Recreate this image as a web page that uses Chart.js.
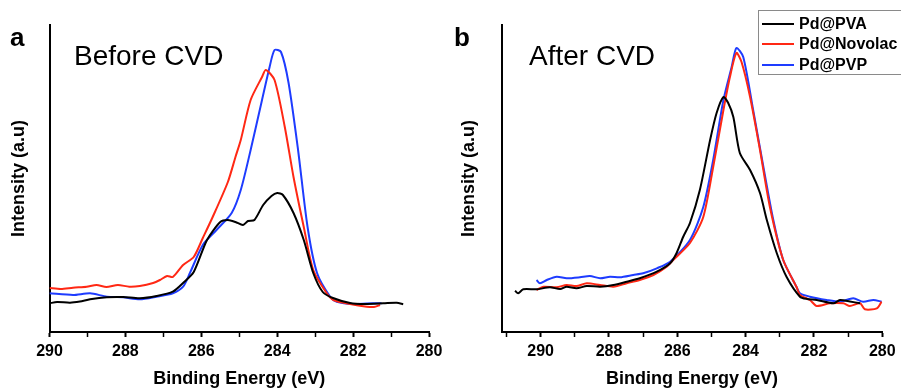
<!DOCTYPE html>
<html>
<head>
<meta charset="utf-8">
<script src="https://cdn.jsdelivr.net/npm/chart.js@4"></script>
<style>
  html, body { margin: 0; padding: 0; background: #fff; }
  #wrap { position: relative; width: 901px; height: 388px; overflow: hidden; font-family: 'Liberation Sans', Arial, sans-serif; }
  .panel { position: absolute; top: 0; height: 388px; }
  .lbl { position: absolute; white-space: nowrap; color: #000; }
  .letter { font-weight: bold; font-size: 26px; }
  .cond { font-size: 28px; }
  #legend { position: absolute; left: 758px; top: 10px; width: 160px; height: 63px; border: 1px solid #8a8a8a; background: #fff; }
  .row { position: absolute; left: 0; height: 20px; }
  .row .ln { position: absolute; left: 3px; top: 9px; width: 32px; height: 2px; }
  .row .tx { position: absolute; left: 40px; top: 0; font-weight: bold; font-size: 16px; line-height: 20px; }
</style>
</head>
<body>
<div id="wrap">
  <div class="panel" style="left:0;width:450px"><canvas id="ca" width="450" height="388"></canvas></div>
  <div class="panel" style="left:450px;width:451px"><canvas id="cb" width="451" height="388"></canvas></div>
  <div class="lbl letter" style="left:10px;top:22px">a</div>
  <div class="lbl cond" style="left:74px;top:40px">Before CVD</div>
  <div class="lbl letter" style="left:454px;top:22px">b</div>
  <div class="lbl cond" style="left:529px;top:40px">After CVD</div>
  <div id="legend">
    <div class="row" style="top:3px"><div class="ln" style="background:#000"></div><div class="tx">Pd@PVA</div></div>
    <div class="row" style="top:23px"><div class="ln" style="background:rgb(255,40,20)"></div><div class="tx">Pd@Novolac</div></div>
    <div class="row" style="top:44px"><div class="ln" style="background:rgb(30,60,255)"></div><div class="tx">Pd@PVP</div></div>
  </div>
</div>
<script>
// ---------- Data (Binding energy in eV, intensity in arbitrary units) ----------
const seriesNames = ['Pd@PVA', 'Pd@Novolac', 'Pd@PVP'];

// Panel a: Before CVD
const aPVA_eV  = [290, 289.8, 289.46, 289.2, 288.93, 288.49, 288.06, 287.62, 287.18, 286.75, 286.48, 286.2, 285.85, 285.5, 285.3, 285.1, 284.9, 284.77, 284.6, 284.37, 284.15, 284.0, 283.85, 283.57, 283.3, 283.05, 282.8, 282.53, 282.08, 281.7, 281.2, 280.85, 280.68];
const aPVA_int = [28.7, 30, 29.3, 30.5, 32.7, 34.7, 35, 33.7, 36, 40.3, 49, 60, 92, 110, 112, 110, 107, 111, 112, 127, 136, 139, 137, 119, 92, 59, 40, 34, 29, 28, 28.7, 29.3, 27.7];

const aNov_eV  = [290, 289.7, 289.38, 289.02, 288.76, 288.5, 288.2, 287.9, 287.62, 287.27, 287.09, 286.9, 286.75, 286.48, 286.2, 285.96, 285.7, 285.3, 285.1, 284.96, 284.7, 284.4, 284.3, 284.07, 283.8, 283.57, 283.3, 283.05, 282.7, 282.52, 282.08, 281.64, 281.45, 281.29];
const aNov_int = [44, 43, 44.3, 45.3, 47, 45, 47, 45.3, 46, 49, 52, 56, 55, 67, 75, 94, 115, 150, 175, 192, 232, 255, 262, 252, 205, 155, 105, 62, 39, 32, 28, 25.3, 25, 27];

const aPVP_eV  = [290, 289.38, 288.93, 288.49, 288.06, 287.62, 287.18, 286.75, 286.48, 286.3, 285.96, 285.6, 285.2, 284.96, 284.7, 284.4, 284.2, 284.07, 283.9, 283.7, 283.45, 283.2, 282.95, 282.6, 282.43, 282.0, 281.47, 281.25];
const aPVP_int = [38.7, 37, 38.7, 35.3, 34.7, 32.7, 35.3, 38.7, 45.3, 59, 87, 102, 119, 142, 182, 232, 265, 282, 280, 249, 182, 105, 59, 35, 30.3, 28, 28.7, 28.7];

// Panel b: After CVD
const bPVA_eV  = [290.75, 290.66, 290.51, 290.12, 289.73, 289.43, 289.24, 288.95, 288.65, 288.26, 287.87, 287.48, 287.1, 286.6, 286.21, 286.02, 285.83, 285.63, 285.34, 285.04, 284.85, 284.65, 284.51, 284.36, 284.17, 283.87, 283.58, 283.38, 283.09, 282.8, 282.41, 282.2, 281.92, 281.43, 281.24, 280.95, 280.65];
const bPVA_int = [41.3, 38.7, 42.7, 42.7, 44.7, 43, 45.3, 43.7, 46, 45.3, 47, 50.3, 53.7, 60.3, 68.7, 79, 95, 109, 142, 192, 219, 235, 229, 215, 179, 162, 139, 112, 79, 55, 35.3, 33, 32, 28.7, 32, 30.5, 28.7];

const bNov_eV  = [290.12, 289.92, 289.53, 289.24, 288.95, 288.65, 288.26, 287.87, 287.48, 287.1, 286.7, 286.31, 286.12, 285.63, 285.24, 284.95, 284.65, 284.46, 284.27, 284.12, 283.87, 283.58, 283.29, 282.9, 282.51, 282.41, 282.12, 281.92, 281.53, 281.14, 280.95, 280.65, 280.51, 280.16, 280.02];
const bNov_int = [42, 45.3, 44.7, 47, 46, 48.7, 47, 45.3, 48.7, 52, 57, 65.3, 72, 89, 115, 165, 222, 255, 279, 270, 235, 182, 125, 72, 45, 37, 32, 26, 28.7, 28.7, 26, 28.7, 22.7, 23.7, 30.3];

const bPVP_eV  = [290.12, 290.02, 289.82, 289.53, 289.24, 288.85, 288.56, 288.26, 287.97, 287.68, 287.29, 287.0, 286.6, 286.21, 285.63, 285.24, 284.95, 284.65, 284.41, 284.27, 284.07, 283.78, 283.48, 283.19, 282.9, 282.51, 282.41, 282.12, 281.63, 281.24, 280.85, 280.56, 280.26, 280.02];
const bPVP_int = [52, 48.7, 52, 55.3, 53.7, 54.7, 56, 53.7, 55.3, 54.7, 57, 58.7, 63.7, 70.3, 92, 125, 172, 232, 265, 284, 275, 222, 165, 112, 72, 45, 38.7, 35.3, 32, 30.3, 33.7, 30.3, 32, 30.3];

// Axis ticks
const aTicks = [280, 281, 282, 283, 284, 285, 286, 287, 288, 289, 290];
const bTicks = [280, 281, 282, 283, 284, 285, 286, 287, 288, 289, 290, 291];
const majorLabels = [280, 282, 284, 286, 288, 290];

// ---------- Build ----------
const colors = ['#000000', 'rgb(255,40,20)', 'rgb(30,60,255)'];
const FONT = "'Liberation Sans', Arial, sans-serif";

function pts(xs, ys) { return xs.map((x, i) => ({ x: x, y: ys[i] })); }

function ds(name, xs, ys, color) {
  return { label: name, data: pts(xs, ys), borderColor: color, backgroundColor: color,
           borderWidth: 2, pointRadius: 0, tension: 0.25, fill: false };
}

function makeChart(id, datasets, xMin, xMax, ticks, padRight, yWidth) {
  return new Chart(document.getElementById(id), {
    type: 'line',
    data: { datasets: datasets },
    options: {
      responsive: false, animation: false, devicePixelRatio: 1,
      layout: { padding: { top: 25, right: padRight, left: 0, bottom: 0 } },
      plugins: { legend: { display: false }, tooltip: { enabled: false } },
      scales: {
        x: {
          type: 'linear', reverse: true, min: xMin, max: xMax,
          afterBuildTicks: s => { s.ticks = ticks.map(v => ({ value: v })); },
          afterFit: s => { s.height = 56; },
          ticks: {
            autoSkip: false, maxRotation: 0, padding: 5, color: '#000',
            font: { family: FONT, size: 16, weight: 'bold' },
            callback: v => (majorLabels.includes(v) ? String(v) : '')
          },
          grid: { drawOnChartArea: false, drawTicks: true, tickLength: 5, tickColor: '#000',
                  tickWidth: c => (c.tick && majorLabels.includes(c.tick.value) ? 2 : 1.5) },
          border: { display: true, color: '#000', width: 2 },
          title: { display: true, text: 'Binding Energy (eV)', color: '#000',
                   font: { family: FONT, size: 18, weight: 'bold' }, padding: { top: 0, bottom: -2 } }
        },
        y: {
          min: 0, max: 307,
          afterFit: s => { s.width = yWidth; },
          ticks: { display: false },
          grid: { drawOnChartArea: false, drawTicks: false },
          border: { display: true, color: '#000', width: 2 },
          title: { display: true, text: 'Intensity (a.u)', color: '#000',
                   font: { family: FONT, size: 18, weight: 'bold' }, padding: { top: 8, bottom: 0 } }
        }
      }
    }
  });
}

makeChart('ca', [
  ds(seriesNames[0], aPVA_eV, aPVA_int, colors[0]),
  ds(seriesNames[1], aNov_eV, aNov_int, colors[1]),
  ds(seriesNames[2], aPVP_eV, aPVP_int, colors[2])
], 280, 290, aTicks, 21, 49.5);

makeChart('cb', [
  ds(seriesNames[0], bPVA_eV, bPVA_int, colors[0]),
  ds(seriesNames[1], bNov_eV, bNov_int, colors[1]),
  ds(seriesNames[2], bPVP_eV, bPVP_int, colors[2])
], 280, 291.14, bTicks, 18.7, 51.7);
</script>
</body>
</html>
